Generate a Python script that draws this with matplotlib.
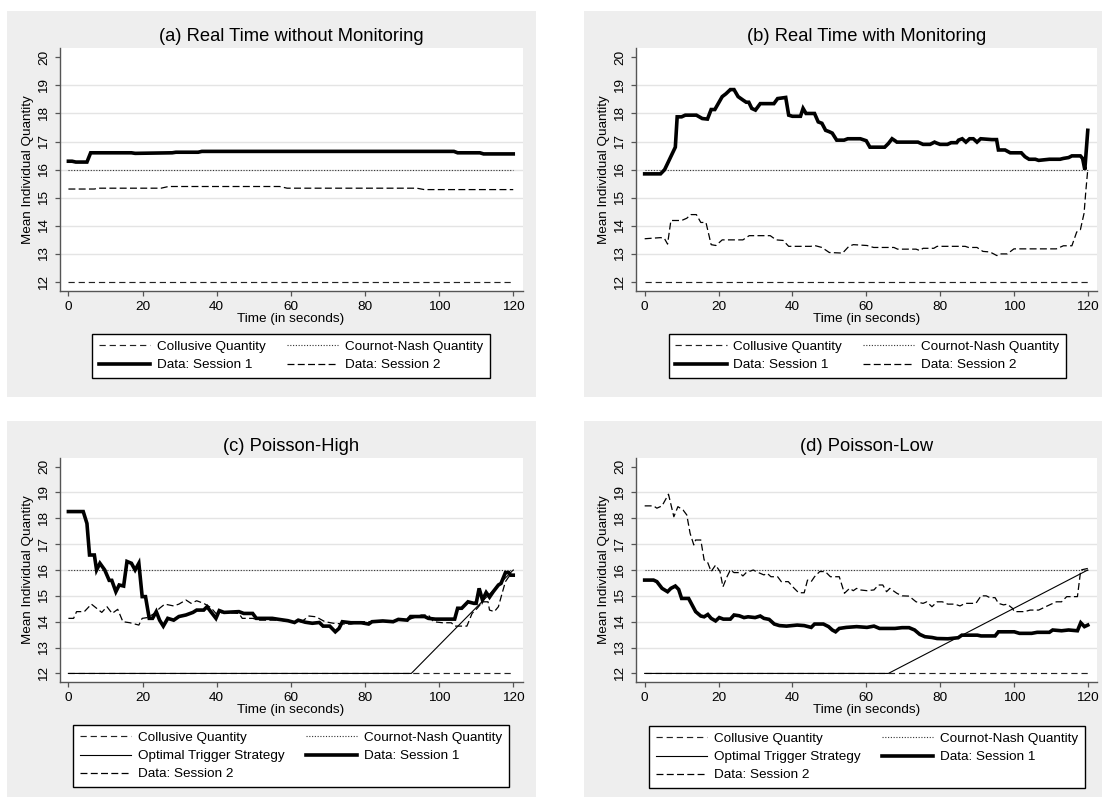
import matplotlib
matplotlib.use("Agg")
import matplotlib.pyplot as plt
from matplotlib.patches import Rectangle

plt.rcParams['font.family'] = ['Liberation Sans', 'DejaVu Sans']
plt.rcParams['lines.scale_dashes'] = False

# ---------------- data ----------------
titles = ["(a) Real Time without Monitoring", "(b) Real Time with Monitoring",
          "(c) Poisson-High", "(d) Poisson-Low"]
x_ticks = [0, 20, 40, 60, 80, 100, 120]
y_ticks = [12, 13, 14, 15, 16, 17, 18, 19, 20]
collusive_q = 12
cournot_q = 16
t_span = [0, 120]

s1_a = [(0, 16.3), (1, 16.3), (2, 16.27), (5, 16.27), (6, 16.6), (17, 16.6), (18, 16.58),
        (28, 16.6), (29, 16.62), (35, 16.62), (36, 16.65), (104, 16.65), (105, 16.6),
        (111, 16.6), (112, 16.56), (120, 16.56)]
s2_a = [(0, 15.31), (7, 15.31), (8, 15.34), (25, 15.34), (27, 15.4), (57, 15.4), (59, 15.34),
        (94, 15.34), (96, 15.29), (120, 15.29)]

s1_b = [(0, 15.85), (4.3, 15.85), (5.4, 16.0), (8.3, 16.8), (8.8, 17.88), (10, 17.88), (11, 17.94),
        (14, 17.94), (15.6, 17.82), (17, 17.8), (18, 18.14), (19, 18.14), (21, 18.6), (22, 18.7),
        (23.2, 18.85), (24.2, 18.85), (25.3, 18.6), (26.7, 18.47), (27.5, 18.4), (28.2, 18.4),
        (29, 18.18), (30, 18.12), (31.3, 18.35), (35, 18.35), (36, 18.53), (38.2, 18.57),
        (39, 17.94), (40, 17.9), (42.2, 17.9), (42.9, 18.18), (43.7, 18.0), (46, 18.0),
        (47, 17.7), (48, 17.65), (49, 17.4), (50, 17.35), (50.8, 17.3), (52, 17.05), (54, 17.05),
        (55, 17.1), (58.4, 17.1), (60, 17.03), (61, 16.8), (65, 16.8), (66, 16.93), (67, 17.1),
        (67.8, 17.03), (68.3, 16.98), (74, 16.98), (75.4, 16.9), (77.3, 16.9), (78.5, 16.98),
        (79, 16.95), (80, 16.9), (82, 16.9), (83, 16.96), (84.5, 16.96), (85, 17.05), (86, 17.1),
        (87, 16.98), (88, 17.1), (89, 17.1), (90, 16.98), (91, 17.1), (94, 17.07), (95.3, 17.07),
        (95.8, 16.7), (97.6, 16.7), (99, 16.6), (102, 16.6), (103, 16.46), (104.1, 16.37),
        (105.8, 16.37), (106.7, 16.33), (109.6, 16.37), (112.5, 16.37), (113.4, 16.4),
        (114.8, 16.43), (115.7, 16.49), (118, 16.49), (118.6, 16.4), (119.2, 16.0),
        (119.6, 16.7), (120, 17.4)]
s2_b = [(0, 13.54), (4.3, 13.58), (5.3, 13.56), (6.2, 13.35), (7.1, 14.19), (10, 14.19),
        (11.4, 14.27), (12.5, 14.4), (14, 14.4), (15.2, 14.12), (16.6, 14.12), (18, 13.33),
        (19.3, 13.3), (21, 13.5), (26.6, 13.5), (28.3, 13.65), (34, 13.65), (35.6, 13.5),
        (37.5, 13.48), (39, 13.27), (45, 13.27), (46, 13.3), (48, 13.23), (50, 13.05),
        (53.6, 13.03), (55.3, 13.27), (56.5, 13.33), (60.2, 13.3), (62, 13.23), (67.5, 13.23),
        (68.5, 13.17), (73.5, 13.17), (74.5, 13.12), (75.4, 13.2), (78.3, 13.2), (79.2, 13.27),
        (86.8, 13.27), (87.7, 13.23), (90, 13.23), (91.6, 13.09), (93.5, 13.07), (95.4, 12.94),
        (96.3, 13.0), (98.2, 13.0), (100, 13.18), (111.5, 13.18), (113.4, 13.29), (115.7, 13.29),
        (117, 13.78), (118, 13.86), (119, 14.45), (119.5, 15.28), (120, 16.0)]

s1_c = [(0, 18.26), (4, 18.26), (5, 17.8), (5.7, 16.58), (7, 16.58), (7.6, 16.0), (8.5, 16.26),
        (9.8, 16.0), (11, 15.6), (11.7, 15.6), (12.8, 15.16), (13.7, 15.42), (14.9, 15.38),
        (15.8, 16.33), (17, 16.26), (18, 16.0), (19, 16.26), (19.9, 14.97), (20.8, 14.97),
        (21.8, 14.13), (22.7, 14.13), (23.7, 14.39), (24.6, 14.06), (25.6, 13.83), (26.8, 14.13),
        (28.4, 14.06), (29.8, 14.2), (31.7, 14.26), (33.6, 14.36), (34.6, 14.45), (36.5, 14.45),
        (37.4, 14.58), (38.4, 14.39), (39.8, 14.13), (40.7, 14.43), (42, 14.36), (46, 14.39),
        (47.3, 14.32), (49.7, 14.32), (50.7, 14.13), (55, 14.13), (56.8, 14.09), (59.2, 14.04),
        (61, 13.97), (62, 14.06), (63.9, 13.98), (65.8, 13.94), (67.7, 13.97), (68.7, 13.83),
        (70.5, 13.83), (72, 13.61), (73, 13.74), (73.9, 14.0), (76.2, 13.96), (79, 13.96),
        (81, 13.91), (81.9, 14.0), (84.8, 14.03), (87.6, 14.0), (89, 14.09), (91.4, 14.06),
        (92.3, 14.2), (96.1, 14.2), (97.1, 14.13), (99, 14.1), (104.2, 14.1), (105, 14.52),
        (106.1, 14.52), (107.8, 14.77), (109.4, 14.71), (110, 14.71), (110.8, 15.29),
        (111.7, 14.84), (112.7, 15.13), (113.6, 14.95), (114.6, 15.16), (116, 15.42),
        (116.7, 15.48), (117.9, 15.9), (118.8, 15.9), (119.3, 15.8), (120, 15.8)]
s2_c = [(0, 14.13), (1.4, 14.13), (2.2, 14.39), (4.3, 14.39), (6.2, 14.68), (7.6, 14.52),
        (9, 14.36), (10.4, 14.58), (11.8, 14.32), (13.3, 14.48), (14.7, 14.0), (16.6, 13.96),
        (19, 13.87), (19.9, 14.13), (21.3, 14.16), (23.2, 14.32), (24.6, 14.52), (26, 14.68),
        (28.4, 14.61), (29.8, 14.68), (31.7, 14.84), (33.1, 14.71), (34.6, 14.81), (36.5, 14.71),
        (38.4, 14.55), (39.8, 14.32), (42, 14.36), (46, 14.32), (46.9, 14.13), (49.7, 14.13),
        (51.6, 14.06), (57.3, 14.06), (59.2, 14.0), (62.9, 14.0), (64.9, 14.22), (66.8, 14.19),
        (69.2, 14.0), (71.5, 13.94), (74.4, 13.91), (76.2, 13.91), (79, 14.0), (83.8, 14.0),
        (86.6, 14.03), (89.5, 14.06), (91.4, 14.06), (95.2, 14.26), (97.1, 14.26), (98.5, 14.0),
        (100.9, 13.96), (103.3, 13.96), (104.2, 13.83), (107.5, 13.83), (108.9, 14.32),
        (110.3, 14.52), (111.7, 14.77), (113.2, 14.77), (113.6, 14.45), (114.9, 14.39),
        (116, 14.58), (117, 15.1), (117.9, 15.55), (118.8, 15.74), (120, 15.8)]
opt_c = [(0, 12), (92.5, 12), (120, 16)]

s1_d = [(0, 15.61), (2.4, 15.61), (3.3, 15.55), (4.7, 15.29), (6.2, 15.16), (7.1, 15.29),
        (8.3, 15.38), (9.2, 15.25), (10, 14.9), (11.9, 14.9), (13.8, 14.39), (15.2, 14.22),
        (16.1, 14.19), (17.1, 14.28), (18, 14.13), (19.2, 14.03), (20.2, 14.16), (21.3, 14.1),
        (23.2, 14.1), (24.2, 14.26), (25.6, 14.23), (26.9, 14.16), (28, 14.19), (29.9, 14.16),
        (31.3, 14.22), (32.3, 14.13), (33.7, 14.09), (35.1, 13.91), (36.5, 13.85), (38.4, 13.83),
        (41.3, 13.87), (43.2, 13.85), (45.1, 13.78), (46, 13.91), (48.4, 13.91), (49.8, 13.81),
        (50.8, 13.68), (51.7, 13.61), (52.7, 13.74), (54.6, 13.78), (57.4, 13.81), (60.2, 13.78),
        (62.1, 13.83), (63.6, 13.74), (67.8, 13.74), (69.7, 13.77), (71.6, 13.77), (73.1, 13.68),
        (74.5, 13.51), (75.9, 13.42), (77.8, 13.39), (79.2, 13.35), (82.1, 13.34), (84.9, 13.38),
        (85.9, 13.48), (90.1, 13.48), (91.1, 13.45), (94.9, 13.45), (95.8, 13.61), (100.1, 13.61),
        (101.5, 13.55), (104.8, 13.55), (106.3, 13.59), (109.6, 13.59), (110.5, 13.68),
        (112.9, 13.65), (114.8, 13.68), (117.2, 13.65), (118.1, 13.96), (119.1, 13.81),
        (120, 13.87)]
s2_d = [(0, 18.48), (2.4, 18.48), (3.3, 18.39), (4.7, 18.48), (6.45, 18.93), (7.9, 18.06),
        (9.0, 18.45), (10.4, 18.32), (11.4, 18.13), (12.3, 17.42), (13.3, 16.97), (13.8, 17.16),
        (15.2, 17.16), (16.1, 16.39), (17.1, 16.28), (18, 15.94), (19.2, 16.19), (20.4, 15.94),
        (21.2, 15.35), (22.3, 15.74), (23.2, 16.0), (24.2, 15.9), (25.6, 15.9), (26.6, 15.77),
        (27.5, 15.9), (29.4, 16.0), (30.8, 15.9), (32.3, 15.81), (33.2, 15.87), (34.2, 15.74),
        (36, 15.74), (37, 15.55), (38.9, 15.55), (40.3, 15.32), (41.7, 15.12), (43.2, 15.12),
        (44.1, 15.61), (45.1, 15.55), (46, 15.74), (47.4, 15.94), (48.9, 15.94), (50.3, 15.74),
        (52.7, 15.74), (54.1, 15.1), (55.5, 15.29), (56.5, 15.2), (57.4, 15.29), (58.3, 15.23),
        (60.2, 15.2), (62.1, 15.23), (63.3, 15.42), (64.5, 15.42), (65.5, 15.16), (66.4, 15.29),
        (68.3, 15.1), (69.7, 15.0), (71.6, 14.99), (73.5, 14.77), (75.4, 14.71), (76.4, 14.77),
        (77.8, 14.58), (79.2, 14.77), (80.6, 14.77), (82.1, 14.68), (84, 14.68), (85.4, 14.61),
        (86.8, 14.71), (89.7, 14.71), (91.1, 15.0), (92.5, 15.0), (93.5, 14.93), (94.9, 14.93),
        (95.8, 14.71), (97.2, 14.65), (98.2, 14.68), (99.6, 14.52), (100.1, 14.39),
        (102.9, 14.39), (104.4, 14.45), (106.7, 14.45), (108.6, 14.58), (110.1, 14.68),
        (111.5, 14.77), (112.9, 14.77), (114.3, 14.97), (117.2, 14.97), (118.1, 16.0),
        (120, 16.06)]
opt_d = [(0, 12), (66, 12), (120, 16)]

lbl_coll = "Collusive Quantity"
lbl_cour = "Cournot-Nash Quantity"
lbl_opt = "Optimal Trigger Strategy"
lbl_s1 = "Data: Session 1"
lbl_s2 = "Data: Session 2"

# ---------------- figure ----------------
W, H = 1102, 798
fig = plt.figure(figsize=(W / 100, H / 100), dpi=100)
fig.patch.set_facecolor('white')


def fr(l, t, r, b):
    return [l / W, 1 - b / H, (r - l) / W, (b - t) / H]


BG = '#eeeeee'
for (l, t, r, b) in [(7, 11, 536, 397), (584, 11, 1112, 397),
                     (7, 421, 536, 797), (584, 421, 1112, 797)]:
    fig.patches.append(Rectangle((l / W, 1 - b / H), (r - l) / W, (b - t) / H,
                                 transform=fig.transFigure, facecolor=BG,
                                 edgecolor='none', zorder=-10))

ax_boxes = [(59.7, 48.3, 522.5, 291), (636, 48.3, 1097, 291),
            (59.7, 458.3, 522.5, 681.7), (636, 458.3, 1097, 681.7)]
leg_boxes = [(92.4, 334, 489.5, 378), (668.7, 334, 1065.8, 378),
             (73, 725, 508.8, 787), (649.4, 726, 1085, 787)]

panels = [(s1_a, s2_a, None), (s1_b, s2_b, None), (s1_c, s2_c, opt_c), (s1_d, s2_d, opt_d)]

FS = 9.7
coll_kw = dict(color='#222222', lw=0.85, linestyle=(0, (4.5, 2.8)))
cour_kw = dict(color='#333333', lw=0.8, linestyle=(0, (0.8, 1.2)))
opt_kw = dict(color='black', lw=0.8, linestyle='-')
s1_kw = dict(color='black', lw=2.6, linestyle='-', solid_joinstyle='miter')
s2_kw = dict(color='black', lw=0.9, linestyle=(0, (5.0, 2.4)))

for i, (box, lbox, (s1, s2, opt)) in enumerate(zip(ax_boxes, leg_boxes, panels)):
    ax = fig.add_axes(fr(*box))
    ax.set_facecolor('white')
    ax.set_xlim(-2.35, 122.5)
    ax.set_ylim(11.68, 20.32)
    for yv in y_ticks[1:-1]:
        ax.axhline(yv, color='#e4e4e4', lw=1.0, zorder=0)
    for sp in ['top', 'right']:
        ax.spines[sp].set_visible(False)
    for sp in ['left', 'bottom']:
        ax.spines[sp].set_color('#555555')
        ax.spines[sp].set_linewidth(1.0)
    ax.set_xticks(x_ticks)
    ax.set_yticks(y_ticks)
    ax.tick_params(axis='both', colors='#555555', length=3.5, width=0.9,
                   labelsize=FS, labelcolor='black')
    ax.tick_params(axis='y', pad=3.5)
    ax.tick_params(axis='x', pad=4)
    for lab in ax.get_yticklabels():
        lab.set_rotation(90)
        lab.set_va('center')
    ax.set_xlabel("Time (in seconds)", fontsize=FS, labelpad=0)
    ax.set_ylabel("Mean Individual Quantity", fontsize=FS, labelpad=3)
    ax.set_title(titles[i], fontsize=13.2, pad=5.5)

    h_coll, = ax.plot(t_span, [collusive_q, collusive_q], label=lbl_coll, **coll_kw)
    h_cour, = ax.plot(t_span, [cournot_q, cournot_q], label=lbl_cour, **cour_kw)
    h_opt = None
    if opt is not None:
        h_opt, = ax.plot([p[0] for p in opt], [p[1] for p in opt], label=lbl_opt, **opt_kw)
    h_s1, = ax.plot([p[0] for p in s1], [p[1] for p in s1], label=lbl_s1, **s1_kw)
    h_s2, = ax.plot([p[0] for p in s2], [p[1] for p in s2], label=lbl_s2, **s2_kw)

    if h_opt is None:
        handles = [h_coll, h_s1, h_cour, h_s2]
    else:
        handles = [h_coll, h_opt, h_s2, h_cour, h_s1]
    labels = [h.get_label() for h in handles]
    l, t, r, b = lbox
    leg = fig.legend(handles, labels, loc='upper left',
                     bbox_to_anchor=(l / W, 1 - b / H, (r - l) / W, (b - t) / H),
                     mode='expand', ncol=2, fontsize=FS, frameon=True, fancybox=False,
                     edgecolor='black', facecolor='white', framealpha=1,
                     borderaxespad=0, borderpad=0.5, labelspacing=0.42,
                     handlelength=3.8, handletextpad=0.5, columnspacing=1.0)
    leg.get_frame().set_linewidth(1.0)

fig.savefig("out.png", dpi=100, facecolor='white')
